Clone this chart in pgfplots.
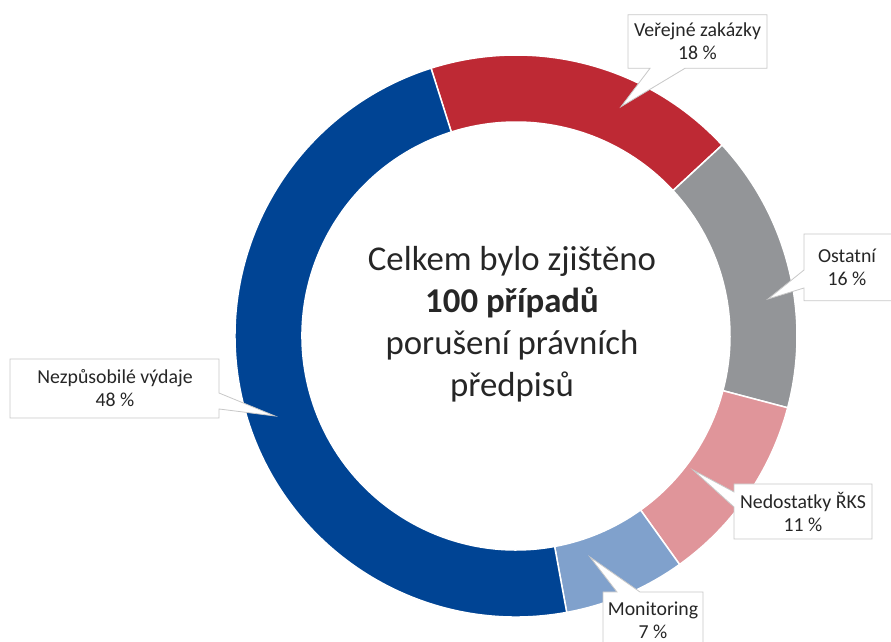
\documentclass[border=0pt]{standalone}
\usepackage{pgfplots}
\pgfplotsset{compat=1.18}
\usepackage{pgfplotstable}
\usepackage{fontspec}
\setmainfont{Carlito}

\definecolor{cVZ}{RGB}{190,41,52}
\definecolor{cOst}{RGB}{147,149,152}
\definecolor{cRKS}{RGB}{224,149,154}
\definecolor{cMon}{RGB}{128,161,204}
\definecolor{cNV}{RGB}{0,68,148}
\definecolor{txt}{RGB}{38,38,38}
\definecolor{bord}{RGB}{200,200,200}

% share (%) of each category, clockwise from the top
\pgfplotstableread{
share color
18 cVZ
16 cOst
11 cRKS
7 cMon
48 cNV
}\donut

\begin{document}
\begin{tikzpicture}[font=\fontsize{19.8}{23}\selectfont, text=txt]
\useasboundingbox (0,0) rectangle (891pt,642pt);
\begin{axis}[x=1pt,y=1pt,xmin=0,xmax=891,ymin=0,ymax=642,
  hide axis,clip=false,at={(0,0)},anchor=south west]
\def\cx{516}\def\cy{306}\def\Ro{281}\def\Ri{214}
\pgfmathsetmacro\segstart{107.6}
\pgfplotsforeachungrouped \i in {0,...,4}{%
  \pgfplotstablegetelem{\i}{share}\of\donut \let\segval\pgfplotsretval
  \pgfplotstablegetelem{\i}{color}\of\donut \let\segcol\pgfplotsretval
  \pgfmathsetmacro\segend{\segstart-3.6*\segval}%
  \pgfmathsetmacro\xa{\cx+\Ro*cos(\segstart)}%
  \pgfmathsetmacro\ya{\cy+\Ro*sin(\segstart)}%
  \pgfmathsetmacro\xb{\cx+\Ri*cos(\segend)}%
  \pgfmathsetmacro\yb{\cy+\Ri*sin(\segend)}%
  \edef\temp{\noexpand\fill[\segcol, draw=white, line width=1.5pt]
    (axis cs:\xa,\ya) arc[start angle=\segstart, end angle=\segend, radius=\Ro pt]
    -- (axis cs:\xb,\yb) arc[start angle=\segend, end angle=\segstart, radius=\Ri pt] -- cycle;}%
  \temp
  \global\let\segstart\segend
}

% callouts
\draw[bord, fill=white, line width=0.8pt] (axis cs:628,627.3) -- (axis cs:767,627.3) -- (axis cs:767,573.7) -- (axis cs:685,573.7) -- (axis cs:621,535.3) -- (axis cs:650,573.7) -- (axis cs:628,573.7) -- cycle;
\node[align=center] at (axis cs:697.5,600.5) {Veřejné zakázky\\18 \%};

\draw[bord, fill=white, line width=0.8pt] (axis cs:804,408) -- (axis cs:892,408) -- (axis cs:892,341.3) -- (axis cs:804,341.3) -- (axis cs:804,354) -- (axis cs:768,343) -- (axis cs:804,372) -- cycle;
\node[align=center] at (axis cs:847,375) {Ostatní\\16 \%};

\draw[bord, fill=white, line width=0.8pt] (axis cs:734,158) -- (axis cs:872,158) -- (axis cs:872,103) -- (axis cs:734,103) -- (axis cs:734,135) -- (axis cs:693,172) -- (axis cs:734,150) -- cycle;
\node[align=center] at (axis cs:803,130.5) {Nedostatky ŘKS\\11 \%};

\draw[bord, fill=white, line width=0.8pt] (axis cs:603,50) -- (axis cs:617,50) -- (axis cs:590,85) -- (axis cs:640,50) -- (axis cs:703,50) -- (axis cs:703,-5) -- (axis cs:603,-5) -- cycle;
\node[align=center] at (axis cs:653,22) {Monitoring\\7 \%};

\draw[bord, fill=white, line width=0.8pt] (axis cs:10,283) -- (axis cs:219,283) -- (axis cs:219,249) -- (axis cs:275,226) -- (axis cs:219,233) -- (axis cs:219,224) -- (axis cs:10,224) -- cycle;
\node[align=center] at (axis cs:115,254) {Nezpůsobilé výdaje\\48 \%};

\node[align=center, font=\fontsize{34.8}{42}\selectfont] at (axis cs:512,318)
  {Celkem bylo zjištěno\\\textbf{100 případů}\\porušení právních\\předpisů};
\end{axis}
\end{tikzpicture}
\end{document}
